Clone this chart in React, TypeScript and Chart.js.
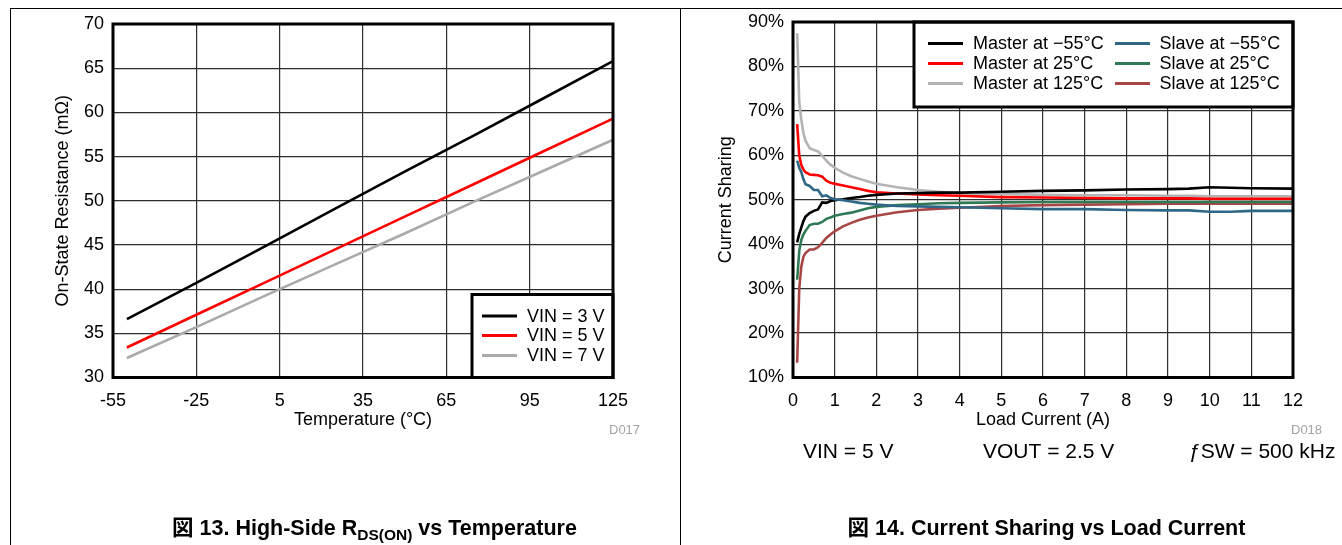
import React, { useEffect, useRef } from "react";
import { Chart, registerables } from "chart.js";

Chart.register(...registerables);

const FONT = "'Liberation Sans', Arial, Helvetica, 'Noto Sans CJK JP', sans-serif";
Chart.defaults.font.family = FONT;
Chart.defaults.font.size = 18;
Chart.defaults.color = "#000";

// ---------- Figure 13: High-Side RDS(ON) vs Temperature ----------
const temperatureC = [-50, -25, 0, 25, 50, 75, 100, 125];
const rdsVin3 = [36.6, 40.7, 44.9, 49.1, 53.3, 57.4, 61.6, 65.8];
const rdsVin5 = [33.4, 37.1, 40.8, 44.5, 48.2, 51.9, 55.6, 59.3];
const rdsVin7 = [32.2, 35.7, 39.3, 42.8, 46.3, 49.9, 53.4, 56.9];
const tempTicks = [-55, -25, 5, 35, 65, 95, 125];
const resistanceTicks = [30, 35, 40, 45, 50, 55, 60, 65, 70];
const fig13Labels = ["VIN = 3 V", "VIN = 5 V", "VIN = 7 V"];

// ---------- Figure 14: Current Sharing vs Load Current ----------
const loadCurrentA = [
  0.1, 0.15, 0.2, 0.25, 0.3, 0.4, 0.5, 0.6, 0.7, 0.8, 0.9, 1.0, 1.2, 1.4, 1.6, 1.8,
  2.0, 2.5, 3.0, 3.5, 4, 5, 6, 7, 8, 9, 9.5, 10, 10.5, 11, 12,
];
const masterM55 = [
  40.4, 42.3, 43.8, 45.2, 46.2, 47.0, 47.5, 47.8, 49.4, 49.3, 49.7, 49.9, 50.1, 50.4, 50.6, 50.9,
  51.1, 51.4, 51.5, 51.6, 51.6, 51.8, 52.0, 52.1, 52.3, 52.4, 52.5, 52.8, 52.7, 52.6, 52.5,
];
const master25 = [
  67.0, 60.0, 57.8, 56.8, 56.2, 55.7, 55.6, 55.5, 55.2, 54.3, 53.8, 53.6, 53.2, 52.8, 52.4, 52.0,
  51.7, 51.4, 51.2, 51.0, 50.9, 50.6, 50.5, 50.4, 50.3, 50.3, 50.3, 50.2, 50.2, 50.2, 50.2,
];
const master125 = [
  87.5, 72.0, 68.0, 65.0, 63.3, 61.6, 61.2, 60.9, 59.9, 58.8, 57.9, 57.2, 56.1, 55.3, 54.7, 54.1,
  53.6, 52.8, 52.2, 51.8, 51.5, 51.3, 51.1, 51.0, 51.0, 50.9, 50.9, 50.8, 50.8, 50.8, 50.8,
];
const slaveM55 = [
  58.8, 57.2, 56.2, 54.6, 53.5, 53.1, 52.2, 52.2, 50.8, 51.0, 50.4, 50.1, 49.9, 49.6, 49.3, 49.1,
  48.9, 48.6, 48.5, 48.4, 48.3, 48.1, 47.9, 47.9, 47.7, 47.6, 47.6, 47.3, 47.3, 47.5, 47.5,
];
const slave25 = [
  32.0, 38.5, 41.0, 42.2, 43.0, 44.3, 44.6, 44.6, 45.0, 45.7, 46.0, 46.4, 46.8, 47.1, 47.6, 48.1,
  48.4, 48.8, 49.0, 49.2, 49.3, 49.4, 49.5, 49.5, 49.5, 49.5, 49.5, 49.5, 49.5, 49.5, 49.5,
];
const slave125 = [
  13.3, 30.0, 35.0, 37.2, 38.0, 38.8, 38.8, 39.3, 40.3, 41.4, 42.2, 42.9, 44.0, 44.8, 45.5, 46.0,
  46.4, 47.2, 47.7, 48.0, 48.2, 48.6, 48.8, 48.9, 49.0, 49.1, 49.1, 49.1, 49.1, 49.1, 49.1,
];
const loadTicks = [0, 1, 2, 3, 4, 5, 6, 7, 8, 9, 10, 11, 12];
const sharingTicks = [10, 20, 30, 40, 50, 60, 70, 80, 90];
const fig14Labels = [
  "Master at \u221255\u00b0C",
  "Master at 25\u00b0C",
  "Master at 125\u00b0C",
  "Slave at \u221255\u00b0C",
  "Slave at 25\u00b0C",
  "Slave at 125\u00b0C",
];

const GRID = "#2e2e2e";

type LegendItem = { label: string; color: string; col: number; row: number };
type TextItem = { text: string; x: number; y: number; size: number; color: string };

function overlayPlugin(items: LegendItem[], g: any, texts: TextItem[]) {
  return {
    id: "overlay",
    afterDraw(chart: any) {
      const { ctx, chartArea: a } = chart;
      ctx.save();
      const bx = a.right - g.w;
      const by = g.anchorBottom ? a.bottom - g.h : a.top;
      ctx.fillStyle = "#fff";
      ctx.fillRect(bx, by, g.w, g.h);
      ctx.lineWidth = 3;
      ctx.strokeStyle = "#000";
      ctx.strokeRect(bx, by, g.w, g.h);
      ctx.font = `18px ${FONT}`;
      ctx.textBaseline = "middle";
      ctx.textAlign = "left";
      items.forEach((it) => {
        const y = by + g.rowY[it.row];
        ctx.beginPath();
        ctx.strokeStyle = it.color;
        ctx.lineWidth = 3;
        ctx.moveTo(bx + g.lineX[it.col], y);
        ctx.lineTo(bx + g.lineX[it.col] + g.lineLen, y);
        ctx.stroke();
        ctx.fillStyle = "#000";
        ctx.fillText(it.label, bx + g.textX[it.col], y + 1);
      });
      // plot frame
      ctx.strokeStyle = "#000";
      ctx.lineWidth = 3;
      ctx.strokeRect(a.left, a.top, a.right - a.left, a.bottom - a.top);
      // free texts
      texts.forEach((t) => {
        ctx.font = `${t.size}px ${FONT}`;
        ctx.fillStyle = t.color;
        ctx.textAlign = "left";
        ctx.textBaseline = "middle";
        ctx.fillText(t.text, t.x, t.y);
      });
      ctx.restore();
    },
  };
}

function axes(opts: {
  xMin: number; xMax: number; xTicks: number[]; xTitle: string;
  yMin: number; yMax: number; yTicks: number[]; yTitle: string; yFmt: (v: number) => string;
  yWidth: number; xHeight: number;
}) {
  return {
    x: {
      type: "linear",
      min: opts.xMin,
      max: opts.xMax,
      afterBuildTicks: (s: any) => { s.ticks = opts.xTicks.map((v) => ({ value: v })); },
      afterFit: (s: any) => { s.height = opts.xHeight; },
      grid: { color: GRID, lineWidth: 1.2, drawTicks: false },
      border: { display: false },
      ticks: { padding: 13, color: "#000", font: { size: 18 }, maxRotation: 0, autoSkip: false },
      title: { display: true, text: opts.xTitle, color: "#000", font: { size: 18 }, padding: 0 },
    },
    y: {
      type: "linear",
      min: opts.yMin,
      max: opts.yMax,
      afterBuildTicks: (s: any) => { s.ticks = opts.yTicks.map((v) => ({ value: v })); },
      afterFit: (s: any) => { s.width = opts.yWidth; },
      grid: { color: GRID, lineWidth: 1.2, drawTicks: false },
      border: { display: false },
      ticks: { padding: 9, color: "#000", font: { size: 18 }, autoSkip: false, callback: (v: any) => opts.yFmt(Number(v)) },
      title: { display: true, text: opts.yTitle, color: "#000", font: { size: 18 }, padding: 0 },
    },
  };
}

function series(xs: number[], ys: number[], color: string) {
  return {
    data: xs.map((x, i) => ({ x, y: ys[i] })),
    borderColor: color,
    backgroundColor: color,
    borderWidth: 2.6,
    pointRadius: 0,
    fill: false,
    tension: 0,
  };
}

function fig13Config() {
  const colors = ["#000000", "#ff0000", "#aaaaaa"];
  const vals = [rdsVin3, rdsVin5, rdsVin7];
  const legendItems = fig13Labels.map((label, i) => ({ label, color: colors[i], col: 0, row: i }));
  const geom = { w: 141, h: 83, lineX: [10], textX: [55], rowY: [21.5, 41, 61], lineLen: 35, anchorBottom: true };
  const texts = [{ text: "D017", x: 609, y: 430, size: 13, color: "#a3a3a3" }];
  return {
    type: "line",
    data: { datasets: vals.map((v, i) => ({ ...series(temperatureC, v, colors[i]), label: fig13Labels[i] })) },
    options: {
      responsive: false,
      animation: false,
      events: [],
      layout: { padding: { left: 52, top: 24, right: 67, bottom: 114 } },
      plugins: { legend: { display: false }, tooltip: { enabled: false } },
      scales: axes({
        xMin: -55, xMax: 125, xTicks: tempTicks, xTitle: "Temperature (\u00b0C)",
        yMin: 30, yMax: 70, yTicks: resistanceTicks, yTitle: "On-State Resistance (m\u03a9)",
        yFmt: (v) => String(v), yWidth: 61, xHeight: 53.5,
      }),
    },
    plugins: [overlayPlugin(legendItems, geom, texts)],
  };
}

function fig14Config() {
  const colors = ["#000000", "#ff0000", "#b3b3b3", "#2f6887", "#2f7a55", "#a84646"];
  const vals = [masterM55, master25, master125, slaveM55, slave25, slave125];
  const legendItems = fig14Labels.map((label, i) => ({ label, color: colors[i], col: i < 3 ? 0 : 1, row: i % 3 }));
  const geom = { w: 379, h: 85, lineX: [14, 201], textX: [59, 245.5], rowY: [21.5, 41.5, 61.5], lineLen: 35, anchorBottom: false };
  const texts = [
    { text: "D018", x: 611, y: 430, size: 13, color: "#a3a3a3" },
    { text: "VIN = 5 V", x: 123, y: 452, size: 21, color: "#000" },
    { text: "VOUT = 2.5 V", x: 303, y: 452, size: 21, color: "#000" },
    { text: "\u0192SW = 500 kHz", x: 509, y: 452, size: 21, color: "#000" },
  ];
  const order = [3, 4, 5, 0, 1, 2];
  return {
    type: "line",
    data: { datasets: order.map((i) => ({ ...series(loadCurrentA, vals[i], colors[i]), label: fig14Labels[i] })) },
    options: {
      responsive: false,
      animation: false,
      events: [],
      layout: { padding: { left: 35, top: 22, right: 49, bottom: 114 } },
      plugins: { legend: { display: false }, tooltip: { enabled: false } },
      scales: axes({
        xMin: 0, xMax: 12, xTicks: loadTicks, xTitle: "Load Current (A)",
        yMin: 10, yMax: 90, yTicks: sharingTicks, yTitle: "Current Sharing",
        yFmt: (v) => `${v}%`, yWidth: 78, xHeight: 53.5,
      }),
    },
    plugins: [overlayPlugin(legendItems, geom, texts)],
  };
}

function ChartCanvas({ make, left, width }: { make: () => any; left: number; width: number }) {
  const ref = useRef<HTMLCanvasElement>(null);
  useEffect(() => {
    const chart = new Chart(ref.current as HTMLCanvasElement, make());
    return () => chart.destroy();
  }, []);
  return (
    <canvas
      ref={ref}
      width={width}
      height={545}
      style={{ position: "absolute", left, top: 0, width, height: 545 }}
    />
  );
}

const captionStyle: React.CSSProperties = {
  position: "absolute",
  top: 516,
  width: 600,
  textAlign: "center",
  fontFamily: FONT,
  fontWeight: "bold",
  fontSize: 21.5,
  lineHeight: "24px",
  whiteSpace: "nowrap",
  color: "#000",
};

export default function App() {
  return (
    <div style={{ position: "absolute", left: 0, top: 0, width: 1342, height: 545, overflow: "hidden", background: "#fff" }}>
      <div style={{ position: "absolute", left: 10, top: 8, width: 1332, height: 1, background: "#000" }} />
      <div style={{ position: "absolute", left: 10, top: 8, width: 1, height: 537, background: "#000" }} />
      <div style={{ position: "absolute", left: 680, top: 8, width: 1, height: 537, background: "#000" }} />
      <ChartCanvas make={fig13Config} left={0} width={680} />
      <ChartCanvas make={fig14Config} left={680} width={662} />
      <div style={{ ...captionStyle, left: 374.5 - 300 }}>
        {"\u56f3 13. High-Side R"}
        <span style={{ fontSize: 15.5, position: "relative", top: 5 }}>DS(ON)</span>
        {" vs Temperature"}
      </div>
      <div style={{ ...captionStyle, left: 1046.5 - 300 }}>{"\u56f3 14. Current Sharing vs Load Current"}</div>
    </div>
  );
}
